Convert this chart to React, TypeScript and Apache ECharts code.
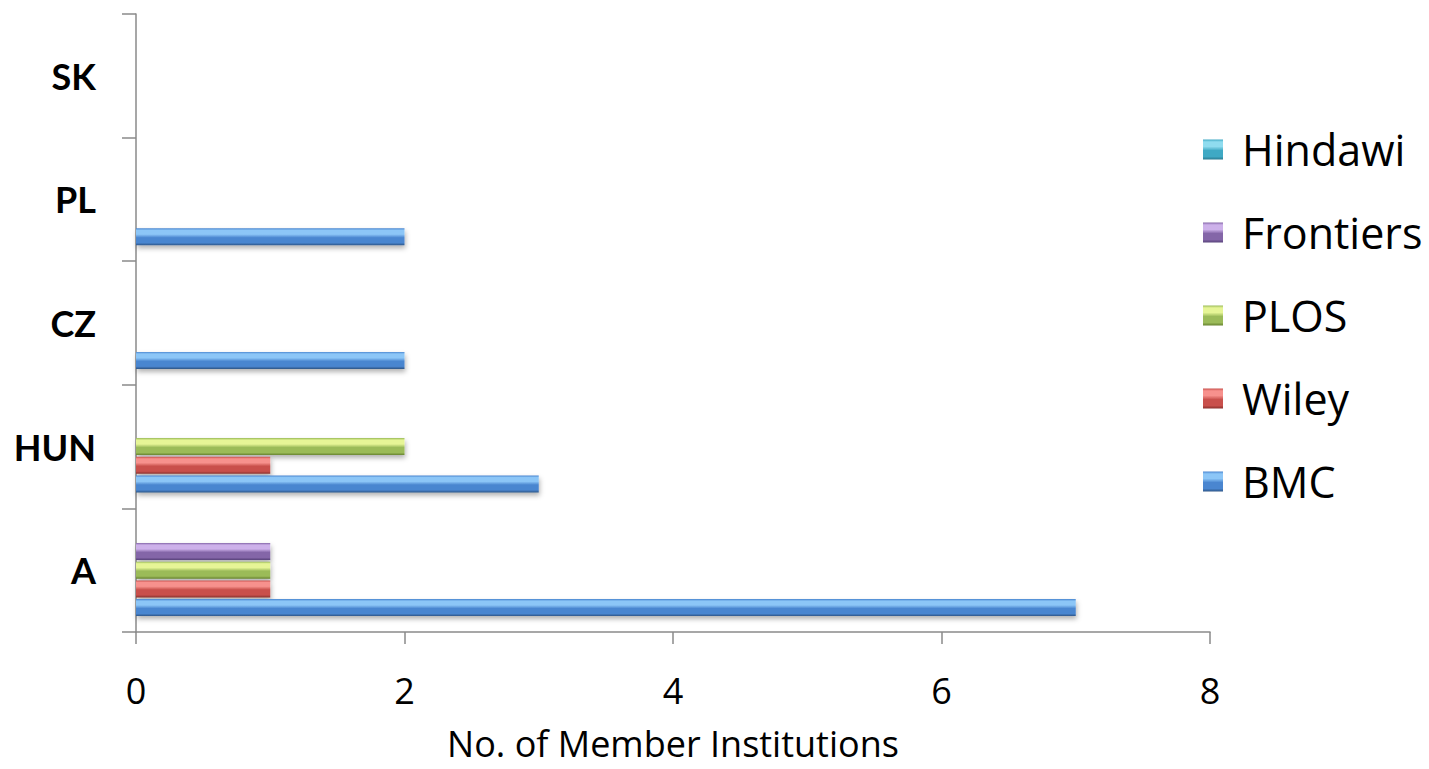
import React, { useEffect, useRef } from "react";
import * as echarts from "echarts";

const categories = ["A", "HUN", "CZ", "PL", "SK"];
const seriesNames = ["BMC", "Wiley", "PLOS", "Frontiers", "Hindawi"];
const bmc = [7, 3, 2, 2, 0];
const wiley = [1, 1, 0, 0, 0];
const plos = [1, 2, 0, 0, 0];
const frontiers = [1, 0, 0, 0, 0];
const hindawi = [0, 0, 0, 0, 0];
const xTicks = [0, 2, 4, 6, 8];
const legendOrder = ["Hindawi", "Frontiers", "PLOS", "Wiley", "BMC"];

const palette: Record<string, [string, string, string]> = {
  BMC: ["#8cc6f7", "#4a86d0", "#2d5587"],
  Wiley: ["#f7918d", "#c9504c", "#8a302d"],
  PLOS: ["#e6f596", "#9bbb59", "#66822f"],
  Frontiers: ["#cdb1ea", "#8466a8", "#57427a"],
  Hindawi: ["#8fdcef", "#3fa9c4", "#2a7a90"],
};

function grad(name: string) {
  const [l, m, d] = palette[name];
  return new echarts.graphic.LinearGradient(0, 0, 0, 1, [
    { offset: 0, color: m },
    { offset: 0.12, color: l },
    { offset: 0.35, color: l },
    { offset: 0.55, color: m },
    { offset: 0.85, color: m },
    { offset: 1, color: d },
  ]);
}

export default function App() {
  const ref = useRef<HTMLDivElement>(null);
  useEffect(() => {
    if (!ref.current) return;
    const chart = echarts.init(ref.current, null, { renderer: "svg" });
    const values: Record<string, number[]> = {
      BMC: bmc,
      Wiley: wiley,
      PLOS: plos,
      Frontiers: frontiers,
      Hindawi: hindawi,
    };
    const axisColor = "#8a8a8a";
    // ECharts places the first series at the top of a horizontal band, so add them top-down
    const drawOrder = [...seriesNames].reverse();
    chart.setOption({
      animation: false,
      backgroundColor: "#ffffff",
      grid: {
        left: 136,
        right: 219,
        top: 14,
        bottom: 137,
        containLabel: false,
        outerBoundsMode: "none",
      },
      legend: {
        orient: "vertical",
        left: 1198,
        top: 123,
        data: legendOrder,
        itemWidth: 20,
        itemHeight: 20,
        itemGap: 40,
        icon: "rect",
        textStyle: {
          fontFamily: "Open Sans",
          fontSize: 43,
          color: "#000",
          lineHeight: 42,
          padding: [0, 0, 0, 14],
        },
        selectedMode: false,
      },
      xAxis: {
        type: "value",
        min: 0,
        max: 8,
        interval: 2,
        name: "No. of Member Institutions",
        nameLocation: "middle",
        nameGap: 93,
        nameTextStyle: { fontFamily: "Open Sans", fontSize: 36, lineHeight: 36, color: "#000" },
        axisLine: { show: true, lineStyle: { color: axisColor, width: 1.5 } },
        axisTick: { show: true, length: 12, lineStyle: { color: axisColor, width: 1.5 } },
        axisLabel: {
          fontFamily: "Open Sans",
          fontSize: 36,
          color: "#000",
          margin: 40,
          formatter: (v: number) => (xTicks.includes(v) ? String(v) : ""),
        },
        splitLine: { show: false },
      },
      yAxis: {
        type: "category",
        data: categories,
        axisLine: { show: true, lineStyle: { color: axisColor, width: 1.5 } },
        axisTick: { show: true, length: 14, lineStyle: { color: axisColor, width: 1.5 } },
        axisLabel: {
          fontFamily: "Lato",
          fontWeight: "bold",
          fontSize: 36,
          color: "#000",
          margin: 40,
        },
      },
      series: drawOrder.map((name) => ({
        name,
        type: "bar",
        data: values[name],
        barWidth: 17,
        barGap: "10%",
        itemStyle: {
          color: grad(name),
          shadowColor: "rgba(0,0,0,0.3)",
          shadowBlur: 5,
          shadowOffsetY: 3,
          shadowOffsetX: 1,
        },
      })),
    });
    return () => chart.dispose();
  }, []);
  return (
    <div
      ref={ref}
      style={{ position: "fixed", left: 0, top: 0, width: 1429, height: 769 }}
    />
  );
}
